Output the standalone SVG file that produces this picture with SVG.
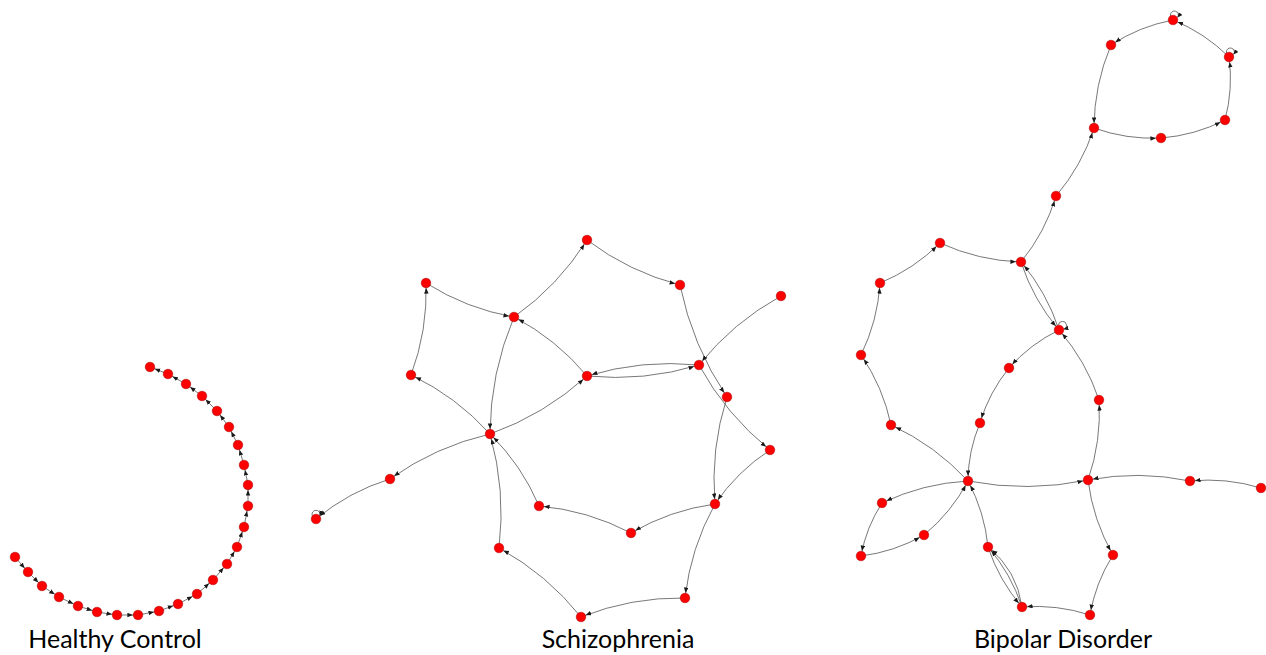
<svg xmlns="http://www.w3.org/2000/svg" width="1266" height="655" viewBox="0 0 1266 655">
<style>
.e{fill:none;stroke:#555;stroke-width:0.8;marker-end:url(#arr)}
.lp{fill:none;stroke:#555;stroke-width:0.8;marker-end:url(#arrl)}
.n circle{fill:#ff0000;stroke:#a00000;stroke-width:0.5}
.lbl{font-family:Lato,"Liberation Sans",sans-serif;font-size:25px;fill:#000;text-anchor:middle}
</style>
<defs>
<marker id="arr" markerUnits="userSpaceOnUse" markerWidth="12" markerHeight="5" refX="10.6" refY="2.25" orient="auto"><path d="M0,0 L5.5,2.25 L0,4.5 z" fill="#1a1a1a"/></marker>
<marker id="arrl" markerUnits="userSpaceOnUse" markerWidth="6" markerHeight="5" refX="5" refY="2.25" orient="auto"><path d="M0,0 L5,2.25 L0,4.5 z" fill="#1a1a1a"/></marker>
</defs>
<rect width="1266" height="655" fill="#fff"/>
<g id="connectors">
<path class="e" d="M15,557 L28,572"/>
<path class="e" d="M28,572 L42,586"/>
<path class="e" d="M42,586 L59,597"/>
<path class="e" d="M59,597 L78,606"/>
<path class="e" d="M78,606 L97,612"/>
<path class="e" d="M97,612 L117,615"/>
<path class="e" d="M117,615 L138,615"/>
<path class="e" d="M138,615 L159,611"/>
<path class="e" d="M159,611 L178,604"/>
<path class="e" d="M178,604 L197,594"/>
<path class="e" d="M197,594 L213,580"/>
<path class="e" d="M213,580 L227,564"/>
<path class="e" d="M227,564 L237,547"/>
<path class="e" d="M237,547 L244,527"/>
<path class="e" d="M244,527 L248,506"/>
<path class="e" d="M248,506 L248,485"/>
<path class="e" d="M248,485 L244,465"/>
<path class="e" d="M244,465 L238,445"/>
<path class="e" d="M238,445 L229,427"/>
<path class="e" d="M229,427 L217,411"/>
<path class="e" d="M217,411 L202,396"/>
<path class="e" d="M202,396 L186,384"/>
<path class="e" d="M186,384 L168,374"/>
<path class="e" d="M168,374 L150,367"/>
<path class="e" d="M514,317 Q558.2,285.8 587,240"/>
<path class="e" d="M587,240 Q629,271.8 680,285"/>
<path class="e" d="M680,285 Q692.3,345.7 727,397"/>
<path class="e" d="M781,296 Q733.1,322.3 699,365"/>
<path class="e" d="M426,283 Q466.6,308.8 514,317"/>
<path class="e" d="M411,375 Q427.7,330.5 426,283"/>
<path class="e" d="M490,434 Q456.4,396.6 411,375"/>
<path class="e" d="M514,317 Q490.3,373.1 490,434"/>
<path class="e" d="M587,376 Q556.4,339.2 514,317"/>
<path class="e" d="M490,434 Q544.3,414.7 587,376"/>
<path class="e" d="M699,365 Q641.9,359.3 587,376"/>
<path class="e" d="M587,376 Q644.1,381.7 699,365"/>
<path class="e" d="M699,365 Q726,414.6 770,450"/>
<path class="e" d="M727,397 Q710.3,449.3 715,504"/>
<path class="e" d="M770,450 Q737.1,471.5 715,504"/>
<path class="e" d="M715,504 Q670.1,510.1 631,533"/>
<path class="e" d="M631,533 Q587.7,510.3 539,506"/>
<path class="e" d="M539,506 Q521.7,465.1 490,434"/>
<path class="e" d="M715,504 Q690.6,548 685,598"/>
<path class="e" d="M685,598 Q631.1,597.1 581,617"/>
<path class="e" d="M581,617 Q546.9,574.3 499,548"/>
<path class="e" d="M499,548 Q505.9,490.1 490,434"/>
<path class="e" d="M490,434 Q435.5,446.5 390,479"/>
<path class="e" d="M390,479 Q349,491.6 316,519"/>
<path class="lp" d="M312.3,515.8 A4,4 0 1 1 319.7,515.8"/>
<path class="e" d="M1173,20 Q1139.5,26.3 1111,45"/>
<path class="e" d="M1229,57 Q1204.7,32.9 1173,20"/>
<path class="e" d="M1225,120 Q1233.3,88.9 1229,57"/>
<path class="e" d="M1161,138 Q1194.8,135.4 1225,120"/>
<path class="e" d="M1094,128 Q1126.5,139.7 1161,138"/>
<path class="e" d="M1111,45 Q1094.2,84.8 1094,128"/>
<path class="e" d="M1056,196 Q1081.8,165.8 1094,128"/>
<path class="e" d="M1021,262 Q1045.1,232.5 1056,196"/>
<path class="e" d="M940,243 Q978.6,260.6 1021,262"/>
<path class="e" d="M880,283 Q914,269 940,243"/>
<path class="e" d="M861,355 Q877.7,320.9 880,283"/>
<path class="e" d="M891,425 Q883,387 861,355"/>
<path class="e" d="M968,481 Q935.1,445.3 891,425"/>
<path class="e" d="M1021,262 Q1033.2,299.8 1059,330"/>
<path class="e" d="M1059,330 Q1046.8,292.2 1021,262"/>
<path class="lp" d="M1058.5,325.3 A4,4 0 1 1 1063.5,329.2"/>
<path class="e" d="M1059,330 Q1030.2,344 1009,368"/>
<path class="e" d="M1009,368 Q989,392.6 980,423"/>
<path class="e" d="M980,423 Q968.2,450.8 968,481"/>
<path class="e" d="M1099,400 Q1086,361 1059,330"/>
<path class="e" d="M1088,480 Q1101.5,441.1 1099,400"/>
<path class="e" d="M968,481 Q1028.1,492.5 1088,480"/>
<path class="e" d="M1190,481 Q1139.1,470.3 1088,480"/>
<path class="e" d="M1261,488 Q1226.2,477.4 1190,481"/>
<path class="e" d="M1088,480 Q1093,520 1113,555"/>
<path class="e" d="M1113,555 Q1095.5,582.7 1090,615"/>
<path class="e" d="M1090,615 Q1056.8,604.2 1022,607"/>
<path class="e" d="M988,547 Q999,580.4 1022,607"/>
<path class="e" d="M1022,607 Q1011,573.6 988,547"/>
<path class="e" d="M1022,607 Q1017,570.2 988,547"/>
<path class="e" d="M988,547 Q984.6,512 968,481"/>
<path class="e" d="M968,481 Q922.8,483.4 882,503"/>
<path class="e" d="M882,503 Q866.2,527.4 861,556"/>
<path class="e" d="M861,556 Q894.6,551.8 924,535"/>
<path class="e" d="M924,535 Q951.4,512.4 968,481"/>
<path class="lp" d="M1170.5,16 A4,4 0 1 1 1177.5,17.5"/>
<path class="lp" d="M1226.5,53 A4,4 0 1 1 1233.5,54.5"/>
</g>
<g id="healthy-nodes" class="n">
<g id="h1"><circle cx="15" cy="557" r="4.8"/></g>
<g id="h2"><circle cx="28" cy="572" r="4.8"/></g>
<g id="h3"><circle cx="42" cy="586" r="4.8"/></g>
<g id="h4"><circle cx="59" cy="597" r="4.8"/></g>
<g id="h5"><circle cx="78" cy="606" r="4.8"/></g>
<g id="h6"><circle cx="97" cy="612" r="4.8"/></g>
<g id="h7"><circle cx="117" cy="615" r="4.8"/></g>
<g id="h8"><circle cx="138" cy="615" r="4.8"/></g>
<g id="h9"><circle cx="159" cy="611" r="4.8"/></g>
<g id="h10"><circle cx="178" cy="604" r="4.8"/></g>
<g id="h11"><circle cx="197" cy="594" r="4.8"/></g>
<g id="h12"><circle cx="213" cy="580" r="4.8"/></g>
<g id="h13"><circle cx="227" cy="564" r="4.8"/></g>
<g id="h14"><circle cx="237" cy="547" r="4.8"/></g>
<g id="h15"><circle cx="244" cy="527" r="4.8"/></g>
<g id="h16"><circle cx="248" cy="506" r="4.8"/></g>
<g id="h17"><circle cx="248" cy="485" r="4.8"/></g>
<g id="h18"><circle cx="244" cy="465" r="4.8"/></g>
<g id="h19"><circle cx="238" cy="445" r="4.8"/></g>
<g id="h20"><circle cx="229" cy="427" r="4.8"/></g>
<g id="h21"><circle cx="217" cy="411" r="4.8"/></g>
<g id="h22"><circle cx="202" cy="396" r="4.8"/></g>
<g id="h23"><circle cx="186" cy="384" r="4.8"/></g>
<g id="h24"><circle cx="168" cy="374" r="4.8"/></g>
<g id="h25"><circle cx="150" cy="367" r="4.8"/></g>
</g>
<g id="schizophrenia-nodes" class="n">
<g id="sA"><circle cx="587" cy="240" r="4.8"/></g>
<g id="sB"><circle cx="680" cy="285" r="4.8"/></g>
<g id="sC"><circle cx="781" cy="296" r="4.8"/></g>
<g id="sD"><circle cx="426" cy="283" r="4.8"/></g>
<g id="sE"><circle cx="514" cy="317" r="4.8"/></g>
<g id="sF"><circle cx="411" cy="375" r="4.8"/></g>
<g id="sG"><circle cx="587" cy="376" r="4.8"/></g>
<g id="sH"><circle cx="699" cy="365" r="4.8"/></g>
<g id="sI"><circle cx="727" cy="397" r="4.8"/></g>
<g id="sJ"><circle cx="770" cy="450" r="4.8"/></g>
<g id="sK"><circle cx="490" cy="434" r="4.8"/></g>
<g id="sL"><circle cx="390" cy="479" r="4.8"/></g>
<g id="sM"><circle cx="316" cy="519" r="4.8"/></g>
<g id="sN"><circle cx="539" cy="506" r="4.8"/></g>
<g id="sO"><circle cx="631" cy="533" r="4.8"/></g>
<g id="sP"><circle cx="715" cy="504" r="4.8"/></g>
<g id="sQ"><circle cx="499" cy="548" r="4.8"/></g>
<g id="sR"><circle cx="685" cy="598" r="4.8"/></g>
<g id="sS"><circle cx="581" cy="617" r="4.8"/></g>
</g>
<g id="bipolar-nodes" class="n">
<g id="b1"><circle cx="1173" cy="20" r="4.8"/></g>
<g id="b2"><circle cx="1111" cy="45" r="4.8"/></g>
<g id="b3"><circle cx="1229" cy="57" r="4.8"/></g>
<g id="b4"><circle cx="1225" cy="120" r="4.8"/></g>
<g id="b5"><circle cx="1161" cy="138" r="4.8"/></g>
<g id="b6"><circle cx="1094" cy="128" r="4.8"/></g>
<g id="b7"><circle cx="1056" cy="196" r="4.8"/></g>
<g id="b8"><circle cx="1021" cy="262" r="4.8"/></g>
<g id="b9"><circle cx="940" cy="243" r="4.8"/></g>
<g id="b10"><circle cx="880" cy="283" r="4.8"/></g>
<g id="b11"><circle cx="861" cy="355" r="4.8"/></g>
<g id="b12"><circle cx="1059" cy="330" r="4.8"/></g>
<g id="b13"><circle cx="1009" cy="368" r="4.8"/></g>
<g id="b14"><circle cx="1099" cy="400" r="4.8"/></g>
<g id="b15"><circle cx="891" cy="425" r="4.8"/></g>
<g id="b16"><circle cx="980" cy="423" r="4.8"/></g>
<g id="b17"><circle cx="968" cy="481" r="4.8"/></g>
<g id="b18"><circle cx="1088" cy="480" r="4.8"/></g>
<g id="b19"><circle cx="1190" cy="481" r="4.8"/></g>
<g id="b20"><circle cx="1261" cy="488" r="4.8"/></g>
<g id="b21"><circle cx="882" cy="503" r="4.8"/></g>
<g id="b22"><circle cx="924" cy="535" r="4.8"/></g>
<g id="b23"><circle cx="861" cy="556" r="4.8"/></g>
<g id="b24"><circle cx="988" cy="547" r="4.8"/></g>
<g id="b25"><circle cx="1113" cy="555" r="4.8"/></g>
<g id="b26"><circle cx="1022" cy="607" r="4.8"/></g>
<g id="b27"><circle cx="1090" cy="615" r="4.8"/></g>
</g>
<g id="labels">
<text class="lbl" x="115" y="648">Healthy Control</text>
<text class="lbl" x="618" y="648">Schizophrenia</text>
<text class="lbl" x="1063" y="648">Bipolar Disorder</text>
</g>
</svg>
